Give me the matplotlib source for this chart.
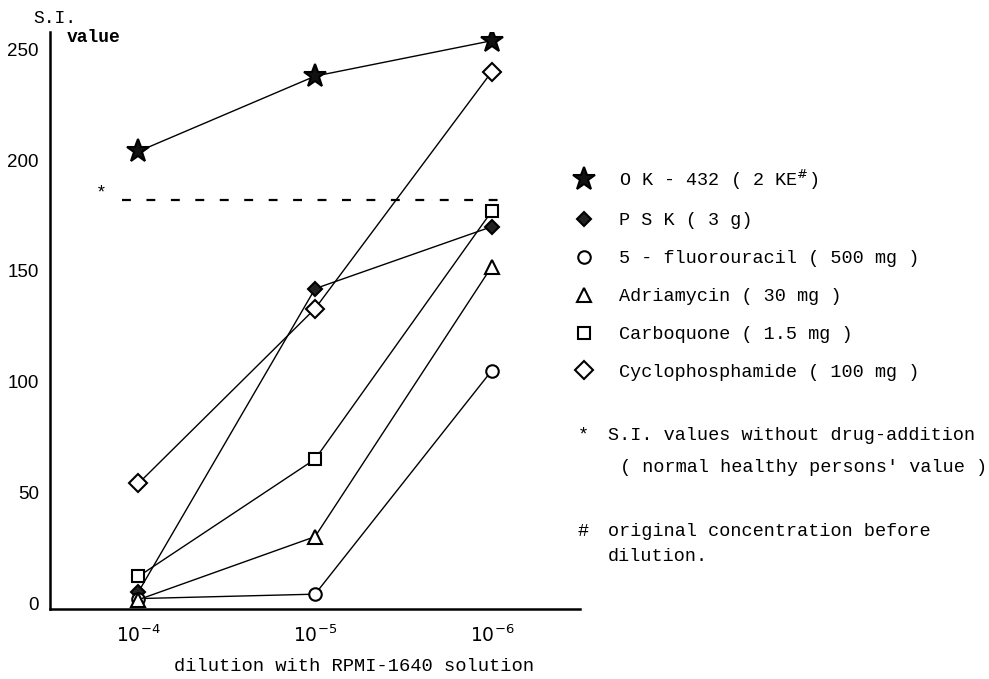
import matplotlib.pyplot as plt
from matplotlib.lines import Line2D

# S.I. values at each dilution
dilutions = ["$10^{-4}$", "$10^{-5}$", "$10^{-6}$"]
ok432 = [204, 238, 254]
psk = [5, 142, 170]
fluorouracil = [2, 4, 105]
adriamycin = [1.5, 30, 152]
carboquone = [12, 65, 177]
cyclophosphamide = [54, 133, 240]
normal_si = 182

labels = [
    "O K - 432 ( 2 KE$^{\\#}$)",
    "P S K ( 3 g)",
    "5 - fluorouracil ( 500 mg )",
    "Adriamycin ( 30 mg )",
    "Carboquone ( 1.5 mg )",
    "Cyclophosphamide ( 100 mg )",
]
y_ticks = [0, 50, 100, 150, 200, 250]

mono = "Liberation Mono"
plt.rcParams["font.family"] = ["Liberation Sans", "DejaVu Sans"]

fig = plt.figure(figsize=(9.89, 6.79), dpi=100)
ax = fig.add_axes([0.0506, 0.1031, 0.536, 0.850])

x = list(range(len(dilutions)))
styles = [
    dict(marker="*", ms=17, mfc="#111111", mec="black"),
    dict(marker="D", ms=7, mfc="#222222", mec="black"),
    dict(marker="o", ms=9, mfc="white", mec="black"),
    dict(marker="^", ms=10, mfc="white", mec="black"),
    dict(marker="s", ms=8, mfc="white", mec="black"),
    dict(marker="D", ms=9, mfc="white", mec="black"),
]
series = [ok432, psk, fluorouracil, adriamycin, carboquone, cyclophosphamide]

handles = []
for vals, st, lab in zip(series, styles, labels):
    ax.plot(x, vals, color="black", lw=1.0, mew=1.5, zorder=3, **st)
    handles.append(Line2D([], [], ls="none", mew=1.5, label=lab, **st))

# normal healthy persons' level
ax.hlines(normal_si, -0.09, 2.12, colors="black", lw=1.6,
          linestyles=(0, (4, 7)), zorder=2)
ax.text(-0.21, normal_si + 3, "*", family=mono, fontsize=13,
        ha="center", va="center")

ax.set_xlim(-0.5, 2.5)
ax.set_ylim(-2.7, 258)
ax.set_xticks(x)
ax.set_xticklabels(dilutions, fontsize=13.5)
ax.set_yticks(y_ticks)
ax.set_yticklabels([str(v) for v in y_ticks], fontsize=13.5)
ax.tick_params(axis="x", length=0, pad=11)
ax.tick_params(axis="y", length=0, pad=8)
for side in ["top", "right"]:
    ax.spines[side].set_visible(False)
for side in ["left", "bottom"]:
    ax.spines[side].set_linewidth(1.8)

fig.text(0.0333, 0.973, "S.I.", family=mono, fontsize=13, va="center")
fig.text(0.067, 0.945, "value", family=mono, fontsize=13,
         fontweight="bold", va="center")
fig.text(0.1755, 0.018, "dilution with RPMI-1640 solution", family=mono,
         fontsize=13.5, va="center")

leg = fig.legend(handles=handles, loc="upper left",
                 bbox_to_anchor=(0.572, 0.767), frameon=False,
                 prop={"family": mono, "size": 13.3}, handlelength=1.0,
                 handletextpad=1.4, labelspacing=1.13, borderpad=0)

notes = [
    (0.584, 0.359, "*"),
    (0.615, 0.359, "S.I. values without drug-addition"),
    (0.627, 0.312, "( normal healthy persons' value )"),
    (0.584, 0.217, "#"),
    (0.615, 0.217, "original concentration before"),
    (0.615, 0.180, "dilution."),
]
for nx, ny, txt in notes:
    fig.text(nx, ny, txt, family=mono, fontsize=13.3, va="center")

fig.savefig("out.png", dpi=100)
